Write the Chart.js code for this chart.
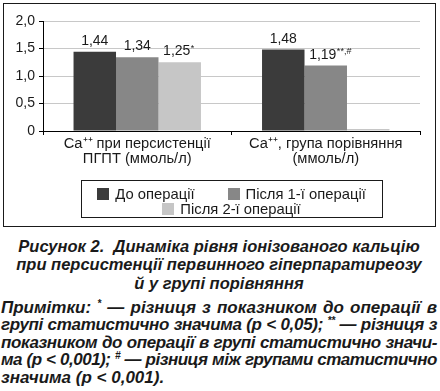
<!DOCTYPE html>
<html>
<head>
<meta charset="utf-8">
<script src="https://cdn.jsdelivr.net/npm/chart.js@4/dist/chart.umd.min.js"></script>
<style>
  html, body { margin: 0; padding: 0; background: #fff; width: 440px; height: 391px; overflow: hidden; }
  #box { position: absolute; left: 3px; top: 3px; width: 431px; height: 222px; border: 1px solid #1a1a1a; }
  #box canvas { position: absolute; left: 0; top: 0; }
  .cap { position: absolute; left: 0; top: 236.5px; width: 438px; text-align: center;
         font: italic bold 16.5px/18.7px "Liberation Sans", Arial, sans-serif; color: #1a1a1a; }
  .notes { position: absolute; left: 1px; top: 298.5px; width: 436px;
           font: italic bold 17px/17.5px "Liberation Sans", Arial, sans-serif; color: #1a1a1a; }
  .notes .l { display: block; white-space: nowrap; text-align: left; }
  .notes .l.j { text-align: justify; text-align-last: justify; }
  .notes sup { font-size: 0.6em; line-height: 0; vertical-align: 0.55em; }
</style>
</head>
<body>
<div id="box"><canvas id="c" width="431" height="222"></canvas></div>
<div class="cap">Рисунок 2.&nbsp; Динаміка рівня іонізованого кальцію<br>при персистенції первинного гіперпаратиреозу<br>й у групі порівняння</div>
<div class="notes" id="notes">
<div class="l j"><span>Примітки: <sup>*</sup> — різниця з показником до операції в</span></div>
<div class="l j"><span>групі статистично значима (p &lt; 0,05); <sup>**</sup> — різниця з</span></div>
<div class="l j"><span>показником до операції в групі статистично значи-</span></div>
<div class="l j"><span>ма (p &lt; 0,001); <sup>#</sup> — різниця між групами статистично</span></div>
<div class="l"><span>значима (p &lt; 0,001).</span></div>
</div>
<script>
// fit each note line into the column width (shrink letter spacing if needed, then justify)
(function () {
  const lines = document.querySelectorAll('#notes .l');
  const maxW = 434;
  lines.forEach(div => {
    const justify = div.classList.contains('j');
    div.classList.remove('j');
    const span = div.firstElementChild;
    const w = span.getBoundingClientRect().width;
    if (w > maxW) {
      const n = span.textContent.length;
      span.style.letterSpacing = (-(w - maxW) / n).toFixed(3) + 'px';
    }
    if (justify) div.classList.add('j');
  });
})();

// ---- data ----
const categories = [
  ['Ca\u207A\u207A при персистенції', 'ПГПТ (ммоль/л)'],
  ['Ca\u207A\u207A, група порівняння', '(ммоль/л)']
];
const seriesNames = ['До операції', 'Після 1-ї операції', 'Після 2-ї операції'];
const beforeOp = [1.44, 1.48];
const after1 = [1.34, 1.19];
const after2 = [1.25, 0];
const beforeMarks = ['', ''];
const after1Marks = ['', '**,#'];
const after2Marks = ['*', ''];
const yTickLabels = ['0', '0,5', '1,0', '1,5', '2,0'];

const valueMarks = [beforeMarks, after1Marks, after2Marks];
const colors = ['#3b3b3b', '#878787', '#c6c6c6'];
const FONT = '"Liberation Sans", Arial, sans-serif';
const TEXT = '#1a1a1a';

const valueLabels = {
  id: 'valueLabels',
  afterDatasetsDraw(chart) {
    const ctx = chart.ctx;
    ctx.save();
    ctx.fillStyle = TEXT;
    ctx.textBaseline = 'alphabetic';
    ctx.textAlign = 'left';
    chart.data.datasets.forEach((ds, di) => {
      const meta = chart.getDatasetMeta(di);
      meta.data.forEach((bar, i) => {
        const v = ds.data[i];
        if (!v) return;
        const main = v.toFixed(2).replace('.', ',');
        const mark = valueMarks[di][i];
        ctx.font = '14px ' + FONT;
        const mw = ctx.measureText(main).width;
        const x0 = bar.x - mw / 2 - (mark ? 3 : 0);
        const y0 = bar.y - 7;
        ctx.fillText(main, x0, y0);
        if (mark) {
          ctx.font = '9px ' + FONT;
          ctx.fillText(mark, x0 + mw + 0.5, y0 - 4.5);
        }
      });
    });
    ctx.restore();
  }
};

const boxLegend = {
  id: 'boxLegend',
  afterDraw(chart) {
    const ctx = chart.ctx, area = chart.chartArea;
    ctx.save();
    ctx.font = '14.8px ' + FONT;
    const box = 12, gapText = 6, gapItem = 33, rowH = 15, maxRow = 290;
    const items = chart.data.datasets.map(ds => ({
      text: ds.label, color: ds.backgroundColor,
      w: box + gapText + ctx.measureText(ds.label).width
    }));
    const rows = [];
    let cur = [], curW = 0;
    items.forEach(it => {
      const add = (cur.length ? gapItem : 0) + it.w;
      if (cur.length && curW + add > maxRow) {
        rows.push({ items: cur, w: curW });
        cur = [it]; curW = it.w;
      } else { cur.push(it); curW += add; }
    });
    rows.push({ items: cur, w: curW });
    const cx = (area.left + area.right) / 2;
    const maxW = Math.max(...rows.map(r => r.w));
    const padX = 16, top = area.bottom + 49;
    const bw = maxW + 2 * padX, bh = 37;
    ctx.strokeStyle = TEXT; ctx.lineWidth = 1;
    ctx.strokeRect(Math.round(cx - bw / 2) + 0.5, Math.round(top) + 0.5, Math.round(bw), bh);
    rows.forEach((r, ri) => {
      let x = cx - r.w / 2;
      const yc = top + 14 + ri * rowH;
      r.items.forEach(it => {
        ctx.fillStyle = it.color;
        ctx.fillRect(Math.round(x), Math.round(yc - 6), box, box);
        ctx.fillStyle = TEXT;
        ctx.textBaseline = 'middle';
        ctx.textAlign = 'left';
        ctx.fillText(it.text, x + box + gapText, yc + 0.5);
        x += it.w + gapItem;
      });
    });
    ctx.restore();
  }
};

new Chart(document.getElementById('c'), {
  type: 'bar',
  data: {
    labels: categories,
    datasets: [
      { label: seriesNames[0], data: beforeOp, backgroundColor: colors[0], minBarLength: 2 },
      { label: seriesNames[1], data: after1, backgroundColor: colors[1], minBarLength: 2 },
      { label: seriesNames[2], data: after2, backgroundColor: colors[2], minBarLength: 2 }
    ]
  },
  options: {
    responsive: false,
    animation: false,
    devicePixelRatio: 1,
    layout: { padding: { top: 17, right: 15, left: 0, bottom: 0 } },
    datasets: { bar: { categoryPercentage: 0.676, barPercentage: 1.0, borderWidth: 0 } },
    plugins: { legend: { display: false }, tooltip: { enabled: false } },
    scales: {
      x: {
        z: 1,
        grid: { display: true, drawOnChartArea: false, drawTicks: true, tickLength: 4, tickColor: '#000', color: '#000' },
        border: { display: true, color: '#000', width: 1 },
        ticks: { color: TEXT, font: { family: FONT, size: 14.7, lineHeight: 1.0 }, padding: 2, maxRotation: 0, autoSkip: false },
        afterFit(scale) { scale.height = 95; }
      },
      y: {
        min: 0, max: 2,
        grid: {
          color: ctx => (ctx.tick && ctx.tick.value === 0) ? '#000' : '#c8c8c8',
          tickColor: '#000', tickLength: 4, lineWidth: 1
        },
        border: { display: true, color: '#000', width: 1 },
        ticks: {
          stepSize: 0.5, padding: 4, color: TEXT,
          font: { family: FONT, size: 14 },
          callback: (v, i) => yTickLabels[i]
        },
        afterFit(scale) { scale.width = 39; }
      }
    }
  },
  plugins: [valueLabels, boxLegend]
});
</script>
</body>
</html>
